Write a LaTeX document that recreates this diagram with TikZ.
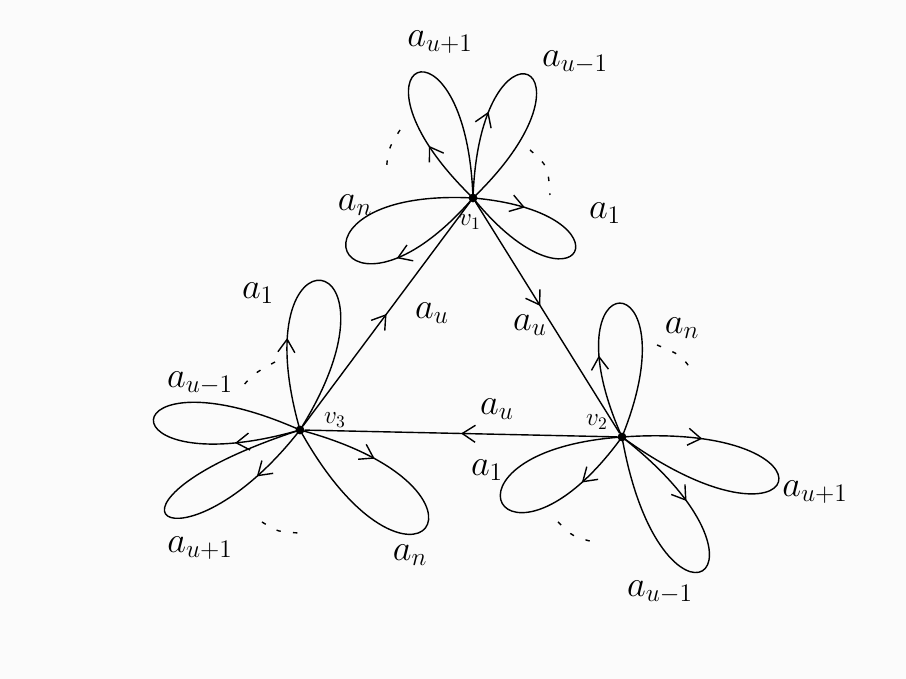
\documentclass[tikz,border=0pt]{standalone}
\usetikzlibrary{arrows.meta,decorations.markings}
\definecolor{paper}{RGB}{251,251,251}
\tikzset{
  vtx/.style={circle,fill=black,inner sep=0pt,minimum size=5pt},
  lbl/.style={font=\huge},
  petal/.style={line width=0.8pt,postaction={decorate},
    decoration={markings,mark=at position #1 with {\arrow{Straight Barb[length=2.6mm,width=3.4mm]}}}},
  petal/.default=0.25,
  dots/.style={line width=0.8pt,dash pattern=on 2.5pt off 7pt},
}
\begin{document}
\begin{tikzpicture}
  \fill[paper] (0,0) rectangle (18.12,13.58);
  \useasboundingbox (0,0) rectangle (18.12,13.58);
  % vertices
  \node[vtx] (v1) at (9.46,9.62) {};
  \node[vtx] (v2) at (12.44,4.84) {};
  \node[vtx] (v3) at (6.00,4.98) {};
  \node[font=\Large] (l1) at (9.40,9.14) {$v_1$};
  \node[font=\Large] (l2) at (11.94,5.14) {$v_2$};
  \node[font=\Large] (l3) at (6.70,5.18) {$v_3$};
  % triangle
  \draw[petal=0.5] (v3) -- (v1);
  \draw[petal=0.45] (v1) -- (v2);
  \draw[petal=0.5] (v2) -- (v3);
  \node[lbl] (e1) at (8.64,7.32) {$a_u$};
  \node[lbl] (e2) at (10.60,7.08) {$a_u$};
  \node[lbl] (e3) at (9.94,5.40) {$a_u$};
  % loops at v1
  \draw[petal=0.23] (v1.center) to[out=136,in=92,distance=3.94cm] (v1.center);
  \draw[petal=0.30] (v1.center) to[out=88,in=44,distance=3.88cm] (v1.center);
  \draw[petal=0.21] (v1.center) to[out=-5,in=-51,distance=3.33cm] (v1.center);
  \draw[petal=0.32] (v1.center) to[out=229,in=177,distance=4.06cm] (v1.center);
  \node[lbl] (p11) at (8.80,12.74) {$a_{u+1}$};
  \node[lbl] (p12) at (11.50,12.34) {$a_{u-1}$};
  \node[lbl] (p13) at (12.10,9.32) {$a_1$};
  \node[lbl] (p14) at (7.10,9.48) {$a_n$};
  \draw[dots] (8.00,10.98) .. controls (7.76,10.60) .. (7.72,10.08);
  \draw[dots] (10.60,10.58) .. controls (10.96,10.26) .. (11.00,9.68);
  % loops at v2
  \draw[petal=0.29] (v2.center) to[out=114,in=68,distance=3.88cm] (v2.center);
  \draw[petal=0.23] (v2.center) to[out=4,in=-36,distance=4.62cm] (v2.center);
  \draw[petal=0.27] (v2.center) to[out=-38,in=-80,distance=4.46cm] (v2.center);
  \draw[petal=0.2] (v2.center) to[out=234,in=184,distance=4.03cm] (v2.center);
  \node[lbl] (p21) at (13.64,7.02) {$a_n$};
  \node[lbl] (p22) at (16.30,3.74) {$a_{u+1}$};
  \node[lbl] (p23) at (13.20,1.74) {$a_{u-1}$};
  \node[lbl] (p24) at (9.74,4.18) {$a_1$};
  \draw[dots] (13.14,6.68) .. controls (13.62,6.48) .. (13.86,6.14);
  \draw[dots] (11.16,3.14) .. controls (11.46,2.84) .. (11.96,2.72);
  % loops at v3
  \draw[petal=0.28] (v3.center) to[out=106,in=58,distance=4.41cm] (v3.center);
  \draw[petal=0.21] (v3.center) to[out=196,in=156,distance=4.17cm] (v3.center);
  \draw[petal=0.19] (v3.center) to[out=232,in=198,out distance=3.9cm,in distance=4.9cm] (v3.center);
  \draw[petal=0.23] (v3.center) to[out=-15,in=-61,distance=4.61cm] (v3.center);
  \node[lbl] (p31) at (5.16,7.72) {$a_1$};
  \node[lbl] (p32) at (4.00,5.92) {$a_{u-1}$};
  \node[lbl] (p33) at (4.00,2.62) {$a_{u+1}$};
  \node[lbl] (p34) at (8.20,2.48) {$a_n$};
  \draw[dots] (5.50,6.34) .. controls (5.06,6.10) .. (4.74,5.72);
  \draw[dots] (5.24,3.14) .. controls (5.56,2.94) .. (6.00,2.92);
\end{tikzpicture}
\end{document}
